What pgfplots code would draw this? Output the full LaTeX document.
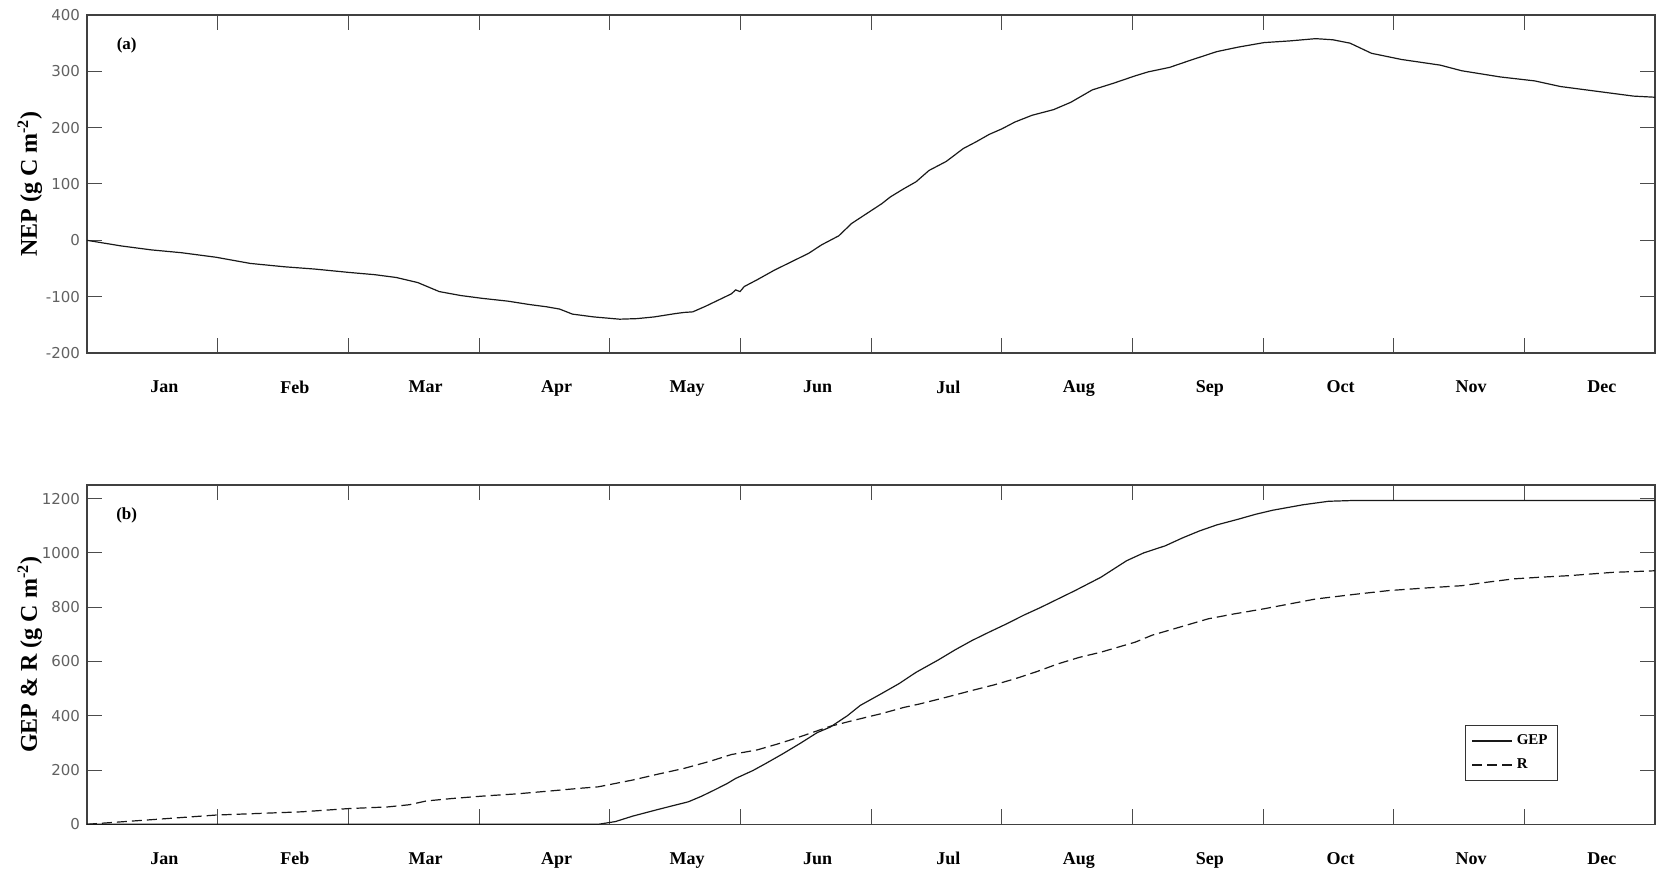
\documentclass[border=0pt]{standalone}
\usepackage{fontspec}
\setmainfont{Liberation Serif}
\newfontfamily\tickfont{DejaVu Sans}
\usepackage{pgfplots}
\pgfplotsset{compat=1.18}

\pgfplotsset{
  panel/.style={
    scale only axis,
    width=784pt,
    xmin=0, xmax=365,
    tick align=inside,
    tick pos=both,
    major tick length=7.5pt,
    axis line style={black!75, line width=0.6pt},
    every tick/.style={black!70, line width=0.5pt},
    xtick={30.42,60.83,91.25,121.67,152.08,182.5,212.92,243.33,273.75,304.17,334.58},
    xticklabels={},
    extra x ticks={18,48.4,78.8,109.3,139.7,170.1,200.5,230.9,261.4,291.8,322.2,352.6},
    extra x tick labels={Jan,Feb,Mar,Apr,May,Jun,Jul,Aug,Sep,Oct,Nov,Dec},
    extra x tick style={major tick length=0pt},
    xticklabel style={font=\fontsize{9}{11}\selectfont\bfseries, yshift=-10.5pt},
    yticklabel style={font=\fontsize{7.5}{9}\selectfont\tickfont, color=black!62},
    /pgf/number format/assume math mode=true,
    /pgf/number format/1000 sep={},
    ylabel style={at={(axis description cs:-0.0365,0.5)}, anchor=center, font=\fontsize{12}{14}\selectfont\bfseries},
  }
}

\begin{document}
\begin{tikzpicture}
\path[use as bounding box] (-43.5pt,-23.35pt) rectangle (788pt,412.15pt);

% ---------- (a) NEP ----------
\begin{axis}[panel,
  at={(0pt,235.65pt)}, anchor=south west,
  height=169pt,
  ymin=-200, ymax=400,
  ytick={-200,-100,0,100,200,300,400},
  ylabel={NEP (g C m\textsuperscript{-2})},
]
\addplot[black!90, line width=0.6pt] coordinates {
(0,0) (8,-10) (15,-17) (22,-22) (30,-30) (38,-41) (46,-47) (53,-51) (61,-57)
(67,-61) (72,-66) (77,-75) (82,-91) (87,-98) (92,-103) (98,-108) (103,-114)
(107,-118) (110,-122) (113,-131) (118,-136) (124,-140) (128,-139) (132,-136)
(137,-130) (139,-128) (141,-127) (144,-117) (147,-106) (150,-95) (151,-88)
(152,-91) (153,-82) (156,-70) (160,-53) (164,-38) (168,-23) (171,-8) (175,8)
(178,30) (182,50) (185,65) (187,77) (190,91) (193,104) (196,124) (200,140)
(204,163) (207,175) (210,188) (213,198) (216,210) (220,222) (225,232) (229,245)
(234,267) (239,279) (244,292) (247,299) (252,307) (257,320) (263,335) (268,343)
(274,351) (280,354) (286,358) (290,356) (294,350) (299,332) (306,321) (315,311)
(320,301) (329,290) (337,283) (343,273) (352,264) (360,256) (365,254)
};
\node[font=\fontsize{8.5}{10}\selectfont\bfseries] at (axis description cs:0.0253,0.9098) {(a)};
\end{axis}

% ---------- (b) GEP & R ----------
\begin{axis}[panel,
  at={(0pt,0pt)}, anchor=south west,
  height=169.65pt,
  ymin=0, ymax=1250,
  ytick={0,200,400,600,800,1000,1200},
  ylabel={GEP \& R (g C m\textsuperscript{-2})},
  legend style={at={(axis description cs:0.8788,0.2927)}, anchor=north west,
    draw=black!80, line width=0.6pt, fill=white,
    font=\fontsize{7.5}{9}\selectfont\bfseries,
    inner xsep=3pt, inner ysep=2.5pt, row sep=1.5pt},
  legend cell align=left,
  legend image code/.code={\draw[#1] (0pt,0pt) -- (20pt,0pt);},
]
\addplot[black!90, line width=0.6pt] coordinates {
(0,0) (119,0) (123,10) (127,30) (133,55) (140,83) (143,103) (146,126)
(149,150) (151,169) (155,198) (158,224) (162,260) (166,298) (170,338) (173,358)
(177,400) (180,438) (185,482) (189,518) (193,560) (198,604) (202,642) (206,677)
(210,708) (214,738) (218,770) (222,799) (226,830) (230,861) (236,910) (242,971)
(246,1000) (251,1026) (255,1055) (259,1081) (263,1103) (268,1124) (272,1142)
(276,1157) (283,1177) (289,1190) (295,1193) (365,1193)
};
\addlegendentry{GEP}
\addplot[black!90, line width=0.6pt, dash pattern=on 5pt off 2.5pt] coordinates {
(0,0) (15,17) (30,34) (40,40) (50,46) (61,58) (70,64) (75,72) (79,86) (85,95)
(93,105) (100,112) (108,123) (115,133) (119,138) (127,163) (133,185) (139,206)
(145,232) (150,257) (156,274) (161,297) (164,312) (167,328) (173,361)
(179,385) (185,408) (190,430) (194,444) (200,468) (206,493) (211,513) (216,536)
(221,562) (226,591) (231,615) (236,634) (244,671) (248,697) (253,720) (261,757)
(267,775) (274,794) (280,812) (286,830) (295,847) (303,861) (312,871) (320,879)
(326,892) (332,904) (338,910) (345,916) (355,928) (365,934)
};
\addlegendentry{R}
\node[font=\fontsize{8.5}{10}\selectfont\bfseries] at (axis description cs:0.0253,0.9098) {(b)};
\end{axis}
\end{tikzpicture}
\end{document}
